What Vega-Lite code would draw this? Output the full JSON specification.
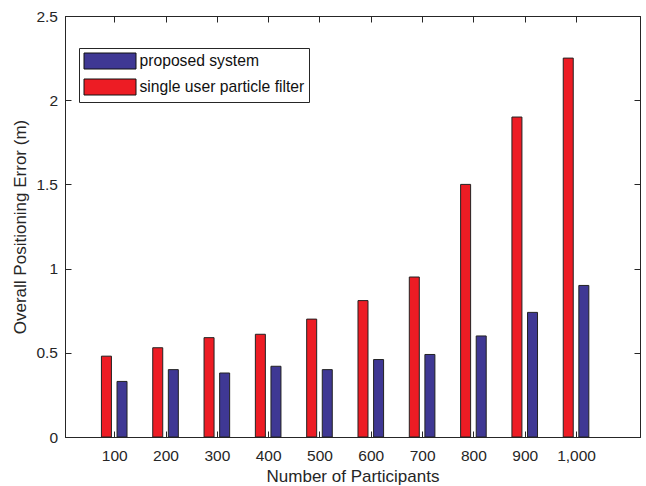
{
  "$schema": "https://vega.github.io/schema/vega-lite/v6.json",
  "width": 575,
  "height": 421,
  "autosize": {"type": "none"},
  "padding": {"left": 65, "top": 16, "right": 6, "bottom": 49},
  "background": "white",
  "config": {
    "font": "Liberation Sans",
    "view": {"stroke": "#262626", "strokeWidth": 1},
    "axis": {"grid": false, "domainColor": "#262626", "tickColor": "#262626", "labelColor": "#262626", "titleColor": "#262626", "titleFontWeight": "normal", "labelFontSize": 15.5, "titleFontSize": 17, "tickSize": -6, "labelFlush": false, "labelOverlap": false}
  },
  "data": {
    "values": [
      {"n": 100, "series": "single user particle filter", "value": 0.48},
      {"n": 200, "series": "single user particle filter", "value": 0.53},
      {"n": 300, "series": "single user particle filter", "value": 0.59},
      {"n": 400, "series": "single user particle filter", "value": 0.61},
      {"n": 500, "series": "single user particle filter", "value": 0.70},
      {"n": 600, "series": "single user particle filter", "value": 0.81},
      {"n": 700, "series": "single user particle filter", "value": 0.95},
      {"n": 800, "series": "single user particle filter", "value": 1.50},
      {"n": 900, "series": "single user particle filter", "value": 1.90},
      {"n": 1000, "series": "single user particle filter", "value": 2.25},
      {"n": 100, "series": "proposed system", "value": 0.33},
      {"n": 200, "series": "proposed system", "value": 0.40},
      {"n": 300, "series": "proposed system", "value": 0.38},
      {"n": 400, "series": "proposed system", "value": 0.42},
      {"n": 500, "series": "proposed system", "value": 0.40},
      {"n": 600, "series": "proposed system", "value": 0.46},
      {"n": 700, "series": "proposed system", "value": 0.49},
      {"n": 800, "series": "proposed system", "value": 0.60},
      {"n": 900, "series": "proposed system", "value": 0.74},
      {"n": 1000, "series": "proposed system", "value": 0.90}
    ]
  },
  "layer": [
    {
      "transform": [{"filter": "datum.series === 'single user particle filter'"}],
      "mark": {"type": "bar", "orient": "vertical", "width": 10, "xOffset": -7.8, "stroke": "#222222", "strokeWidth": 1},
      "encoding": {
        "x": {"field": "n", "type": "quantitative", "scale": {"domain": [13.8, 1114.9], "nice": false, "zero": false},
          "axis": {"orient": "bottom", "values": [100, 200, 300, 400, 500, 600, 700, 800, 900, 1000], "format": ",d", "labelPadding": 17, "title": "Number of Participants", "titlePadding": 5}},
        "y": {"field": "value", "type": "quantitative", "stack": null, "scale": {"domain": [0, 2.5], "nice": false},
          "axis": {"orient": "left", "values": [0, 0.5, 1, 1.5, 2, 2.5], "format": "~g", "labelPadding": 13.5, "title": "Overall Positioning Error (m)", "titlePadding": 6}},
        "color": {"field": "series", "type": "nominal",
          "scale": {"domain": ["proposed system", "single user particle filter"], "range": ["#3F3894", "#ED1C24"]},
          "legend": {"orient": "none", "legendX": 14, "legendY": 32, "title": null, "padding": 4.5, "rowPadding": 5, "strokeColor": "#262626", "fillColor": "white", "cornerRadius": 0, "symbolType": "M-1,-1H5.5V1H-1Z", "symbolSize": 256, "symbolStrokeColor": "#111111", "symbolStrokeWidth": 1, "symbolOpacity": 1, "labelOffset": 39, "labelFontSize": 15.7, "labelColor": "#111111", "labelLimit": 400}}
      }
    },
    {
      "transform": [{"filter": "datum.series === 'proposed system'"}],
      "mark": {"type": "bar", "orient": "vertical", "width": 10, "xOffset": 7.8, "stroke": "#222222", "strokeWidth": 1},
      "encoding": {
        "x": {"field": "n", "type": "quantitative", "scale": {"domain": [13.8, 1114.9], "nice": false, "zero": false},
          "axis": {"orient": "top", "values": [100, 200, 300, 400, 500, 600, 700, 800, 900, 1000], "labels": false, "title": null}},
        "y": {"field": "value", "type": "quantitative", "stack": null, "scale": {"domain": [0, 2.5], "nice": false},
          "axis": {"orient": "right", "values": [0, 0.5, 1, 1.5, 2, 2.5], "labels": false, "title": null}},
        "color": {"field": "series", "type": "nominal",
          "scale": {"domain": ["proposed system", "single user particle filter"], "range": ["#3F3894", "#ED1C24"]},
          "legend": {"orient": "none", "legendX": 14, "legendY": 32, "title": null, "padding": 4.5, "rowPadding": 5, "strokeColor": "#262626", "fillColor": "white", "cornerRadius": 0, "symbolType": "M-1,-1H5.5V1H-1Z", "symbolSize": 256, "symbolStrokeColor": "#111111", "symbolStrokeWidth": 1, "symbolOpacity": 1, "labelOffset": 39, "labelFontSize": 15.7, "labelColor": "#111111", "labelLimit": 400}}
      }
    }
  ],
  "resolve": {"axis": {"x": "independent", "y": "independent"}}
}
